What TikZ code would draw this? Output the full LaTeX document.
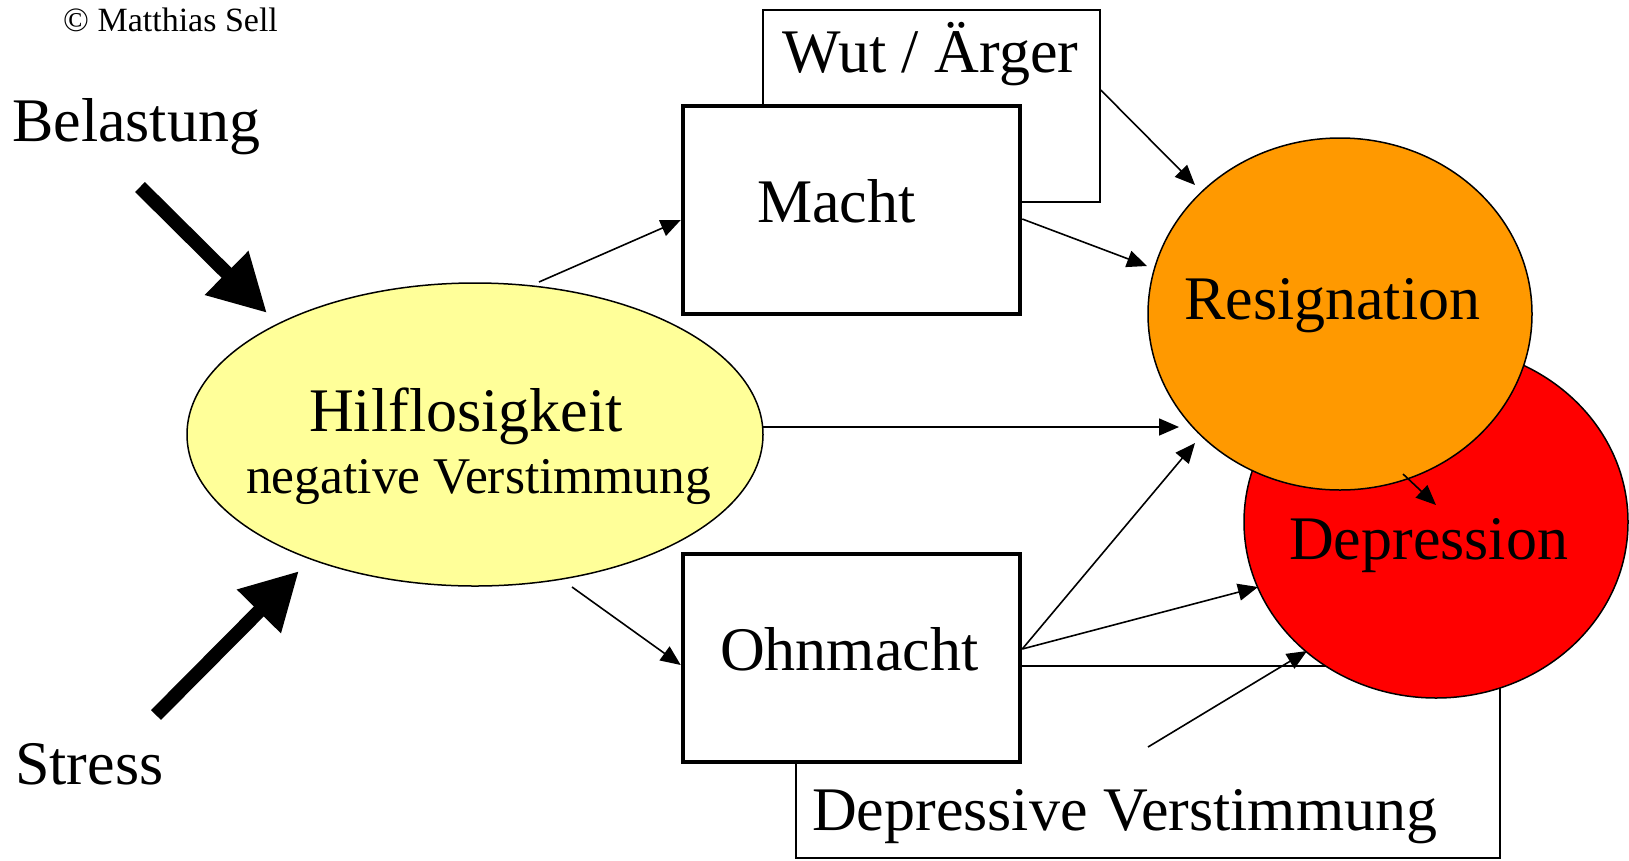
\documentclass[tikz,border=0pt]{standalone}
\usepackage{fontspec}
\setmainfont{Liberation Serif}
\usetikzlibrary{arrows.meta,shapes.geometric,calc}
\definecolor{hilfyellow}{HTML}{FFFF99}
\definecolor{resorange}{HTML}{FF9900}
\definecolor{depred}{HTML}{FF0000}
\begin{document}
\begin{tikzpicture}[x=1pt,y=-1pt,
  thinbox/.style={rectangle, draw=black, line width=1.5pt, fill=white, inner sep=0pt},
  thickbox/.style={rectangle, draw=black, line width=4.5pt, fill=white, inner sep=0pt},
  blob/.style={ellipse, draw=black, line width=1.5pt, inner sep=0pt},
  lbl/.style={inner sep=0pt, anchor=base west, font=\fontsize{62pt}{74pt}\selectfont},
  conn/.style={line width=1.6pt, -{Triangle[length=20pt,width=17pt]}},
  bigarrow/.style={line width=14pt, -{Triangle[length=57pt,width=58pt]}}]
\useasboundingbox (0,0) rectangle (1629,860);
\fill[white] (0,0) rectangle (1629,860);

% background boxes
\node[thinbox, minimum width=337pt, minimum height=192pt] (wut) at (931.5,106) {};
\node[thinbox, minimum width=704pt, minimum height=192pt] (dv) at (1148,762) {};
% circles
\node[blob, fill=depred, minimum width=384pt, minimum height=352pt] (dep) at (1436,522) {};
\node[blob, fill=resorange, minimum width=384pt, minimum height=352pt] (res) at (1340,314) {};
% main boxes
\node[thickbox, minimum width=337pt, minimum height=208pt] (macht) at (851.5,210) {};
\node[thickbox, minimum width=337pt, minimum height=208pt] (ohn) at (851.5,658) {};
% ellipse
\node[blob, fill=hilfyellow, minimum width=576pt, minimum height=303pt] (hilf) at (475,434.5) {};

% texts
\node[lbl, font=\fontsize{34pt}{40pt}\selectfont] (copy) at (63,31) {© Matthias Sell};
\node[lbl] (bel) at (12,141) {Belastung};
\node[lbl] (str) at (15,784) {Stress};
\node[lbl] (hilft) at (309,431) {Hilflosigkeit};
\node[lbl, font=\fontsize{51.5pt}{60pt}\selectfont] (negt) at (246,493) {negative Verstimmung};
\node[lbl] (wutt) at (782,72) {Wut / Ärger};
\node[lbl] (machtt) at (757,222) {Macht};
\node[lbl] (ohnt) at (720,670) {Ohnmacht};
\node[lbl] (rest) at (1184,319) {Resignation};
\node[lbl] (dept) at (1289,559) {Depression};
\node[lbl] (dvt) at (812,830) {Depressive Verstimmung};

% thick arrows
\coordinate (belstart) at (140,187);
\coordinate (strstart) at (156,715);
\draw[bigarrow] (belstart) -- ($(hilf.center)+(-208,-121.5)$);
\draw[bigarrow] (strstart) -- ($(hilf.center)+(-176,136.5)$);

% connectors
\draw[conn] ($(hilf.center)+(64,-152.5)$) -- ($(macht.west)+(0,10)$);
\draw[conn] ($(hilf.center)+(97,152.5)$) -- ($(ohn.west)+(0,7)$);
\draw[conn] ($(hilf.center)+(288,-7.5)$) -- ($(res.center)+(-161,113)$);
\draw[conn] ($(wut.east)+(0,-16)$) -- ($(res.center)+(-145,-129)$);
\draw[conn] ($(macht.east)+(0,9)$) -- ($(res.center)+(-193,-48)$);
\draw[conn] ($(ohn.east)+(0,-9)$) -- ($(res.center)+(-145,129)$);
\draw[conn] ($(ohn.east)+(0,-9)$) -- ($(dep.center)+(-178,65)$);
\draw[conn] ($(dv.center)+(0,-15)$) -- ($(dep.center)+(-129,129)$);
\draw[conn] ($(res.center)+(63,160)$) -- ($(dep.center)+(0,-17)$);
\end{tikzpicture}
\end{document}
